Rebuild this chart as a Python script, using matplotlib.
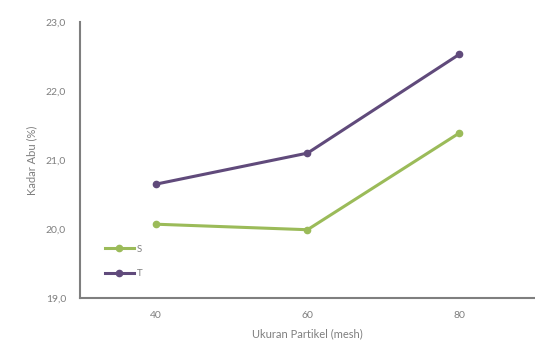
import matplotlib
matplotlib.use("Agg")
import matplotlib.pyplot as plt
from matplotlib.ticker import FuncFormatter

categories = ["40", "60", "80"]
series_S = [20.07, 19.99, 21.39]
series_T = [20.65, 21.10, 22.53]
yticks = [19.0, 20.0, 21.0, 22.0, 23.0]

plt.rcParams['font.family'] = ['Lato', 'DejaVu Sans']

fig = plt.figure(figsize=(5.35, 3.49), dpi=100)
ax = fig.add_axes([0.1495, 0.146, 0.8505, 0.791])

x = range(len(categories))
ax.plot(x, series_S, color="#9BBB59", lw=2.2, marker="o", ms=4.5, label="S")
ax.plot(x, series_T, color="#604A7B", lw=2.2, marker="o", ms=4.5, label="T")

ax.set_xlim(-0.5, 2.5)
ax.set_ylim(19.0, 23.0)
ax.set_xticks(list(x))
ax.set_xticklabels(categories)
ax.set_yticks(yticks)
ax.yaxis.set_major_formatter(FuncFormatter(lambda v, p: f"{v:.1f}".replace(".", ",")))

for s in ["top", "right"]:
    ax.spines[s].set_visible(False)
for s in ["left", "bottom"]:
    ax.spines[s].set_color("#7f7f7f")
    ax.spines[s].set_linewidth(1.5)
ax.tick_params(length=0, colors="#7f7f7f", labelsize=7.5, pad=10)
ax.tick_params(axis="x", pad=9)

ax.set_ylabel("Kadar Abu (%)", color="#7f7f7f", fontsize=8, labelpad=6)
ax.set_xlabel("Ukuran Partikel (mesh)", color="#7f7f7f", fontsize=8, labelpad=6)

leg = ax.legend(loc="lower left", bbox_to_anchor=(0.035, 0.04), frameon=False,
                fontsize=7, handlelength=3.0, labelspacing=1.6, handletextpad=0.3,
                labelcolor="#7f7f7f")

fig.savefig("out.png", dpi=100)
